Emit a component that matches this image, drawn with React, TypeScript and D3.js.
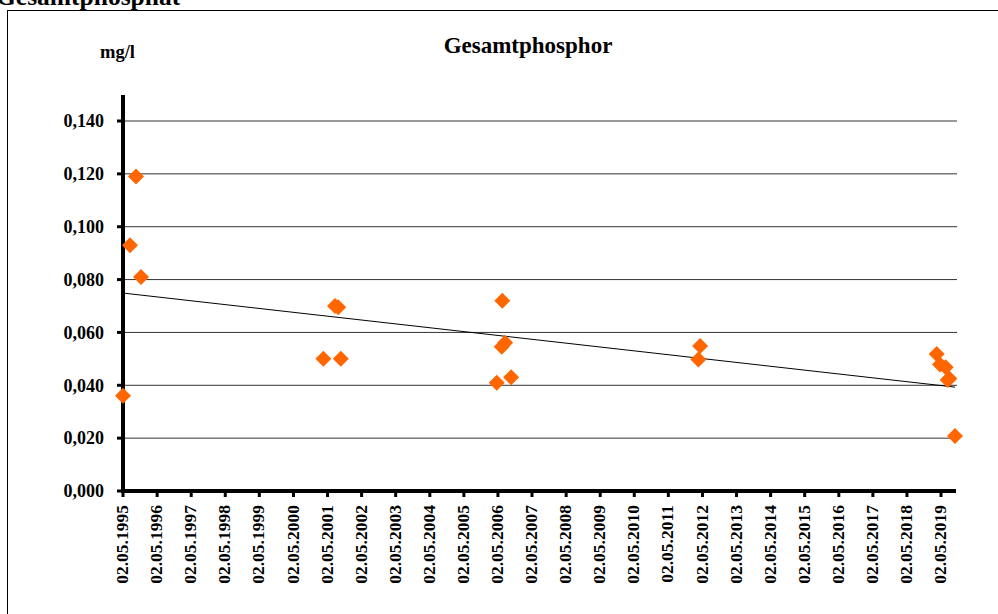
import React from "react";
import * as d3 from "d3";

// ---- data ----
const sampleDates: string[] = [
  "1995-05-02", "1995-07-16", "1995-09-18", "1995-11-11",
  "2001-03-18", "2001-07-21", "2001-08-24", "2001-09-21",
  "2006-04-19", "2006-06-12", "2006-06-18", "2006-07-18", "2006-09-20",
  "2012-03-19", "2012-04-07",
  "2019-03-17", "2019-04-21", "2019-06-21", "2019-07-13", "2019-07-30", "2019-09-29",
];
const phosphorValues: number[] = [
  0.036, 0.093, 0.119, 0.081,
  0.050, 0.070, 0.0695, 0.050,
  0.041, 0.0546, 0.072, 0.0561, 0.043,
  0.0498, 0.0549,
  0.0518, 0.0479, 0.0468, 0.042, 0.0426, 0.0208,
];
const trendDates: string[] = ["1995-05-02", "2019-09-29"];
const trendValues: number[] = [0.0749, 0.0393];
const yTicks: number[] = [0, 0.02, 0.04, 0.06, 0.08, 0.1, 0.12, 0.14];
const xTickYears: number[] = d3.range(1995, 2020);
const chartTitle = "Gesamtphosphor";
const pageHeading = "Gesamtphosphat";
const unitLabel = "mg/l";

const parse = d3.timeParse("%Y-%m-%d");
const fmtY = (v: number) => v.toFixed(3).replace(".", ",");
const fmtX = d3.timeFormat("%d.%m.%Y");

export default function App() {
  const W = 998, H = 614;
  const x = d3.scaleTime()
    .domain([parse(trendDates[0])!, parse(trendDates[1])!])
    .range([123, 955]);
  const y = d3.scaleLinear().domain([0, 0.14]).range([491, 121]);
  const xTicks = xTickYears.map((yr) => new Date(yr, 4, 2));
  const tstyle = { fontFamily: "\"Liberation Serif\", \"DejaVu Serif\", serif", fontWeight: 700 } as React.CSSProperties;
  const diamond = "M0,-8L8,0L0,8L-8,0Z";

  return (
    <svg width={W} height={H} style={{ position: "absolute", left: 0, top: 0, background: "#fff" }}>
      <text x={-4} y={5} fontSize={25.5} style={tstyle}>{pageHeading}</text>
      <rect x={7.5} y={10.5} width={1000} height={700} fill="none" stroke="#000" strokeWidth={1} />
      <text x={528} y={53} textAnchor="middle" fontSize={23} style={tstyle}>{chartTitle}</text>
      <text x={100} y={58} fontSize={18.5} style={tstyle}>{unitLabel}</text>

      {/* gridlines */}
      {yTicks.filter((t) => t > 0).map((t) => (
        <line key={"g" + t} x1={123} x2={957} y1={y(t)} y2={y(t)} stroke="#333" strokeWidth={1} />
      ))}

      {/* y ticks + labels */}
      {yTicks.map((t) => (
        <g key={"y" + t}>
          <line x1={117} x2={123} y1={y(t)} y2={y(t)} stroke="#000" strokeWidth={3} />
          <text x={104} y={y(t)} dy="0.35em" textAnchor="end" fontSize={18} style={tstyle}>{fmtY(t)}</text>
        </g>
      ))}

      {/* x ticks + labels */}
      {xTicks.map((d, i) => (
        <g key={"x" + i}>
          <line x1={x(d)} x2={x(d)} y1={491} y2={497} stroke="#000" strokeWidth={3} />
          <text transform={`translate(${x(d) - 1},505) rotate(-90)`} textAnchor="end" dy="0.35em"
            fontSize={17.5} style={tstyle}>{fmtX(d)}</text>
        </g>
      ))}

      {/* axes */}
      <line x1={123} x2={123} y1={95} y2={493} stroke="#000" strokeWidth={4} />
      <line x1={121} x2={956} y1={491} y2={491} stroke="#000" strokeWidth={4} />

      {/* trend */}
      <line x1={x(parse(trendDates[0])!)} y1={y(trendValues[0])} x2={x(parse(trendDates[1])!)} y2={y(trendValues[1])}
        stroke="#000" strokeWidth={1} />

      {/* points */}
      {sampleDates.map((s, i) => (
        <path key={"p" + i} d={diamond} transform={`translate(${x(parse(s)!)},${y(phosphorValues[i])})`} fill="#FF6600" />
      ))}
    </svg>
  );
}
